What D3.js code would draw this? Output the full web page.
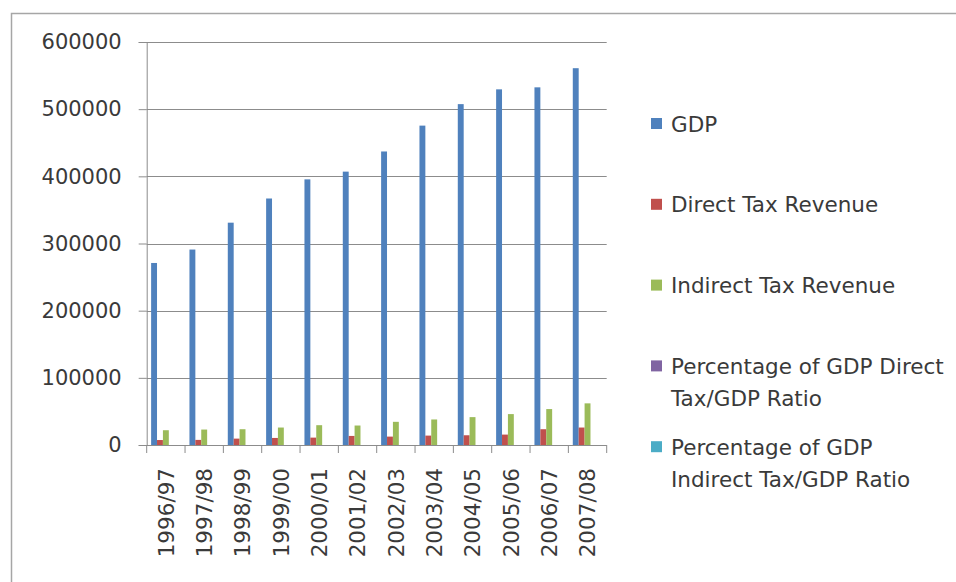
<!DOCTYPE html>
<html>
<head>
<meta charset="utf-8">
<script src="https://cdn.jsdelivr.net/npm/d3@7"></script>
<style>
  html, body { margin: 0; padding: 0; background: #ffffff; }
  svg { display: block; }
  text { font-family: "DejaVu Sans", sans-serif; fill: #3a3a3a; }
</style>
</head>
<body>
<svg id="chart" width="956" height="582"></svg>
<script>
// Fiscal years shown on the category axis
const years = ["1996/97", "1997/98", "1998/99", "1999/00", "2000/01", "2001/02",
               "2002/03", "2003/04", "2004/05", "2005/06", "2006/07", "2007/08"];

// Series values per fiscal year
const gdp = [271000, 291000, 331000, 367000, 395500, 407000,
             437000, 475500, 507500, 529500, 532500, 561000];
const directTax = [7400, 7600, 9500, 10500, 11000, 13500,
                   12500, 14000, 14500, 15500, 23500, 26000];
const indirectTax = [22000, 23000, 23500, 26000, 29500, 29000,
                     34500, 38000, 41500, 46000, 53500, 62000];
const directRatio = [2.7, 2.6, 2.9, 2.9, 2.8, 3.3, 2.9, 2.9, 2.9, 2.9, 4.4, 4.6];
const indirectRatio = [8.1, 7.9, 7.1, 7.1, 7.5, 7.1, 7.9, 8.0, 8.2, 8.7, 10.0, 11.1];

// Series names (legend labels, wrapped lines) and colours
const seriesNames = [
  ["GDP"],
  ["Direct Tax Revenue"],
  ["Indirect Tax Revenue"],
  ["Percentage of GDP Direct", "Tax/GDP Ratio"],
  ["Percentage of GDP", "Indirect Tax/GDP Ratio"]
];
const seriesColors = ["#4f81bd", "#c0504d", "#9bbb59", "#8064a2", "#4bacc6"];

// Y axis ticks
const yTicks = [0, 100000, 200000, 300000, 400000, 500000, 600000];

const seriesValues = [gdp, directTax, indirectTax, directRatio, indirectRatio];
const rows = years.map((y, i) => ({ year: y, values: seriesValues.map(s => s[i]) }));

const svg = d3.select("#chart");

// Outer chart frame
svg.append("rect")
  .attr("x", 11.5).attr("y", 13.5)
  .attr("width", 980).attr("height", 600)
  .attr("fill", "#ffffff")
  .attr("stroke", "#a6a6a6").attr("stroke-width", 1.5);

const plot = { left: 146.7, right: 606.7, top: 42, bottom: 445 };

const x = d3.scaleBand().domain(years).range([plot.left, plot.right]).paddingInner(0).paddingOuter(0);
const xs = d3.scaleBand().domain(d3.range(seriesValues.length))
  .range([0, x.bandwidth()]).paddingInner(0).paddingOuter(0.75);
const y = d3.scaleLinear().domain([0, 600000]).range([plot.bottom, plot.top]);

// Horizontal gridlines
svg.append("g")
  .selectAll("line")
  .data(yTicks.filter(t => t > 0))
  .join("line")
  .attr("x1", plot.left).attr("x2", plot.right)
  .attr("y1", d => Math.round(y(d)) + 0.5).attr("y2", d => Math.round(y(d)) + 0.5)
  .attr("stroke", "#8c8c8c").attr("stroke-width", 1);

// Bars
svg.append("g")
  .selectAll("g")
  .data(rows)
  .join("g")
  .attr("transform", d => `translate(${x(d.year)},0)`)
  .selectAll("rect")
  .data(d => d.values.map((v, k) => ({ k, v })))
  .join("rect")
  .attr("x", d => xs(d.k))
  .attr("width", xs.bandwidth())
  .attr("y", d => y(d.v))
  .attr("height", d => y(0) - y(d.v))
  .attr("fill", d => seriesColors[d.k]);

// Y axis
const yAxis = svg.append("g")
  .attr("transform", `translate(${plot.left},0)`)
  .call(d3.axisLeft(y).tickValues(yTicks).tickFormat(d3.format("d")).tickSize(8).tickPadding(17));
yAxis.select(".domain").attr("stroke", "#8c8c8c");
yAxis.selectAll(".tick line").attr("stroke", "#8c8c8c");
yAxis.selectAll(".tick text")
  .attr("font-size", 21)
  .attr("font-family", "DejaVu Sans, sans-serif")
  .attr("fill", "#3a3a3a");

// X axis: boundary ticks between categories
const xAxisG = svg.append("g").attr("transform", `translate(0,${plot.bottom})`);
xAxisG.append("line")
  .attr("x1", plot.left).attr("x2", plot.right)
  .attr("y1", 0.5).attr("y2", 0.5)
  .attr("stroke", "#8c8c8c");
xAxisG.selectAll("line.bound")
  .data(d3.range(years.length + 1))
  .join("line")
  .attr("class", "bound")
  .attr("x1", i => plot.left + i * x.step())
  .attr("x2", i => plot.left + i * x.step())
  .attr("y1", 0).attr("y2", 8)
  .attr("stroke", "#8c8c8c");

// Rotated category labels
xAxisG.selectAll("text")
  .data(years)
  .join("text")
  .attr("transform", d => `translate(${x(d) + x.bandwidth() / 2},${23}) rotate(-90)`)
  .attr("text-anchor", "end")
  .attr("dy", "0.36em")
  .attr("font-size", 21.5)
  .text(d => d);

// Legend
const legend = svg.append("g").attr("transform", "translate(651,0)");
const entry = legend.selectAll("g")
  .data(seriesNames)
  .join("g")
  .attr("transform", (d, i) => `translate(0,${131.5 + i * 80.8})`);
entry.append("rect")
  .attr("x", 0).attr("y", -13.5)
  .attr("width", 11).attr("height", 11)
  .attr("fill", (d, i) => seriesColors[i]);
entry.append("text")
  .attr("x", 20)
  .attr("font-size", 21.5)
  .selectAll("tspan")
  .data(d => d)
  .join("tspan")
  .attr("x", 20)
  .attr("y", (d, j) => j * 32)
  .text(d => d);
</script>
</body>
</html>
